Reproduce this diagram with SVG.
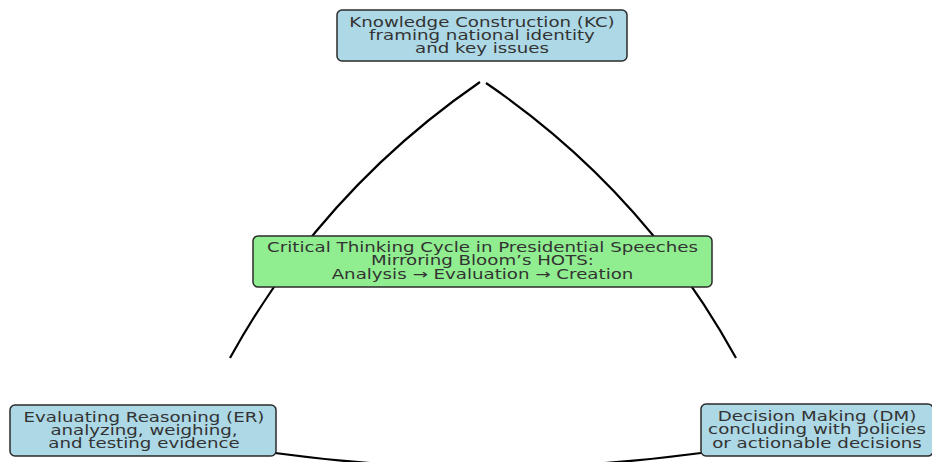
<svg xmlns="http://www.w3.org/2000/svg" width="932" height="462" viewBox="0 0 932 462">
<style>
.box{stroke:#2b2b2b;stroke-width:1.5}
.blue{fill:#add8e6}
.green{fill:#90ee90}
.t{font-family:"DejaVu Sans","Liberation Sans",sans-serif;font-size:13.6px;fill:#333;text-anchor:middle}
.arc{fill:none;stroke:#000;stroke-width:2.2}
</style>
<rect width="932" height="462" fill="#fff"/>
<g id="connectors">
<path class="arc" d="M480 82 Q322.4 190.5 230 358"/>
<path class="arc" d="M486 83 Q643.6 190.5 736 358"/>
<path class="arc" d="M275 453 Q486 482 701 453"/>
</g>
<g id="kc">
<rect class="box blue" x="337" y="10" width="290" height="51" rx="5"/>
<text class="t" transform="translate(482,26.7) scale(1.34,1)">Knowledge Construction (KC)</text>
<text class="t" transform="translate(482,39.8) scale(1.34,1)">framing national identity</text>
<text class="t" transform="translate(482,52.9) scale(1.34,1)">and key issues</text>
</g>
<g id="center">
<rect class="box green" x="253" y="236" width="459" height="51" rx="5"/>
<text class="t" transform="translate(482.5,252.3) scale(1.34,1)">Critical Thinking Cycle in Presidential Speeches</text>
<text class="t" transform="translate(482.5,265.4) scale(1.34,1)">Mirroring Bloom’s HOTS:</text>
<text class="t" transform="translate(482.5,278.5) scale(1.34,1)">Analysis → Evaluation → Creation</text>
</g>
<g id="er">
<rect class="box blue" x="10" y="405" width="266" height="51" rx="5"/>
<text class="t" transform="translate(144,422) scale(1.34,1)">Evaluating Reasoning (ER)</text>
<text class="t" transform="translate(144,435.1) scale(1.34,1)">analyzing, weighing,</text>
<text class="t" transform="translate(144,448.2) scale(1.34,1)">and testing evidence</text>
</g>
<g id="dm">
<rect class="box blue" x="701" y="404" width="232" height="52" rx="5"/>
<text class="t" transform="translate(817,421.3) scale(1.34,1)">Decision Making (DM)</text>
<text class="t" transform="translate(817,434.4) scale(1.34,1)">concluding with policies</text>
<text class="t" transform="translate(817,447.5) scale(1.34,1)">or actionable decisions</text>
</g>
</svg>
